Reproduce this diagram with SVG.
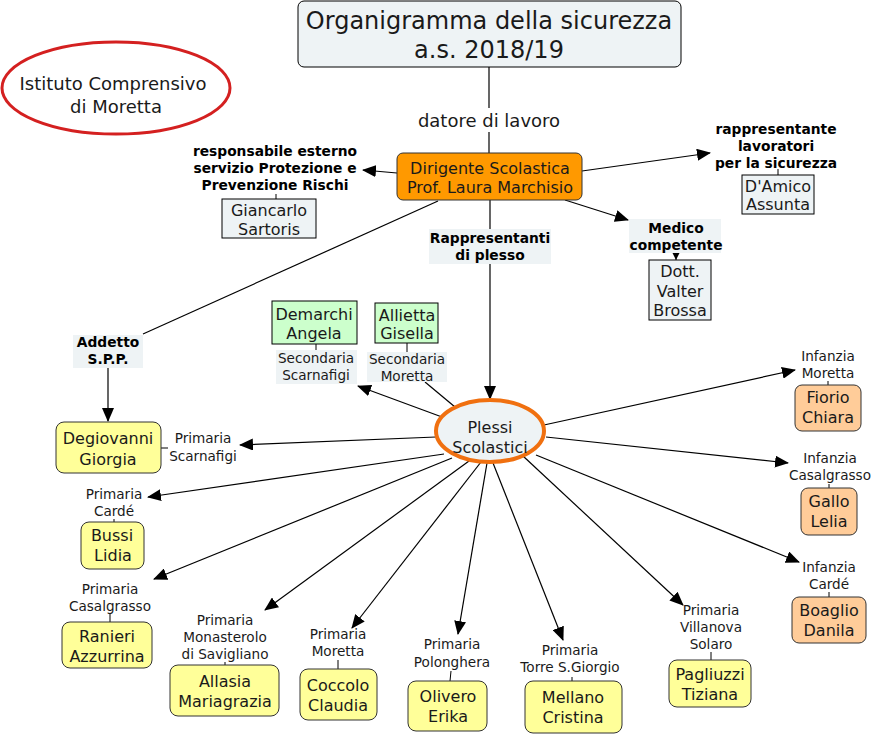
<svg xmlns="http://www.w3.org/2000/svg" width="877" height="736" viewBox="0 0 877 736">
<defs>
<marker id="ah" markerUnits="userSpaceOnUse" markerWidth="14" markerHeight="12" viewBox="0 0 14 12" refX="13" refY="6" orient="auto">
<path d="M0,0 L14,6 L0,12 Z" fill="#000"/>
</marker>
<marker id="ahs" markerUnits="userSpaceOnUse" markerWidth="8" markerHeight="8" viewBox="0 0 8 8" refX="8" refY="4" orient="auto">
<path d="M0,0 L8,4 L0,8 Z" fill="#000"/>
</marker>
</defs>
<style>
text{font-family:"DejaVu Sans","Liberation Sans",sans-serif;fill:#1a1a1a;text-anchor:middle}
.n{font-size:16px}
.l{font-size:13.6px}
.b{font-size:13.8px;font-weight:bold;fill:#000}
.lbg{fill:#eef3f5;stroke:none}
.pale{fill:#eef3f5;stroke:#000;stroke-width:1}
.yel{fill:#ffff99;stroke:#333;stroke-width:1}
.grn{fill:#ccffcc;stroke:#000;stroke-width:1}
.pch{fill:#ffcc99;stroke:#333;stroke-width:1}
.c{stroke:#000;stroke-width:1.2;fill:none}
.a{stroke:#000;stroke-width:1.2;fill:none;marker-end:url(#ah)}
.t{stroke:#000;stroke-width:1;fill:none}
</style>
<rect width="877" height="736" fill="#fff"/>

<g id="connectors">
<path class="c" d="M489,67 V108"/>
<path class="c" d="M489,132 V153"/>
<path class="a" d="M397,173 L363,170"/>
<path class="a" d="M582,171 L710,153"/>
<path class="a" d="M565,200 L628,220"/>
<path class="c" d="M490,200 V229"/>
<path class="a" d="M490,264 V399"/>
<path class="c" d="M438,201 L143,334"/>
<path class="a" d="M108,368 V421"/>
<path class="a" d="M442,417 L358,386"/>
<path class="c" d="M455,407 L425,382"/>
<path class="a" d="M436,437 L240,445"/>
<path class="a" d="M444,454 L148,497"/>
<path class="a" d="M452,458 L154,579"/>
<path class="a" d="M469,461 L265,610"/>
<path class="a" d="M481,462 L352,628"/>
<path class="a" d="M487,463 L458,634"/>
<path class="a" d="M493,463 L563,640"/>
<path class="a" d="M523,456 L683,605"/>
<path class="a" d="M544,425 L795,370"/>
<path class="a" d="M546,437 L788,463"/>
<path class="a" d="M536,455 L799,562"/>
<path class="t" d="M276,194 V199"/>
<path class="t" d="M778,169 V175"/>
<path class="t" d="M676,253 V260" marker-end="url(#ahs)"/>
<path class="t" d="M316,344 V350"/>
<path class="t" d="M407,343 V352"/>
<path class="t" d="M161,448 H168"/>
<path class="t" d="M114,519 V522"/>
<path class="t" d="M110,614 V622"/>
<path class="t" d="M225,662 V665"/>
<path class="t" d="M338,660 V669"/>
<path class="t" d="M451,671 L450,681"/>
<path class="t" d="M572,677 V681"/>
<path class="t" d="M711,652 V660"/>
<path class="t" d="M828,381 V385"/>
<path class="t" d="M829,484 V488"/>
<path class="t" d="M829,592 V597"/>
</g>

<g id="title">
<rect x="298" y="1" width="383" height="66" rx="6" class="pale"/>
<text x="489" y="29" font-size="24">Organigramma della sicurezza</text>
<text x="489" y="58" font-size="24">a.s. 2018/19</text>
</g>

<g id="istituto">
<ellipse cx="116" cy="88" rx="114" ry="46" fill="#fff" stroke="#d42020" stroke-width="3"/>
<text x="113" y="90" font-size="18">Istituto Comprensivo</text>
<text x="116" y="113" font-size="18">di Moretta</text>
</g>

<g id="datore">
<rect x="412" y="109" width="154" height="22" fill="#fff"/>
<text x="489" y="127" font-size="18">datore di lavoro</text>
</g>

<g id="dirigente">
<rect x="397" y="153" width="185" height="47" rx="6" fill="#ff9900" stroke="#333" stroke-width="1"/>
<text class="n" x="490" y="174">Dirigente Scolastica</text>
<text class="n" x="490" y="193">Prof. Laura Marchisio</text>
</g>

<g id="rspp">
<text class="b" x="275" y="156">responsabile esterno</text>
<text class="b" x="275" y="173">servizio Protezione e</text>
<text class="b" x="275" y="190">Prevenzione Rischi</text>
</g>
<g id="sartoris">
<rect x="222" y="199" width="94" height="39" class="pale"/>
<text class="n" x="269" y="216">Giancarlo</text>
<text class="n" x="269" y="235">Sartoris</text>
</g>

<g id="rls">
<text class="b" x="776" y="134">rappresentante</text>
<text class="b" x="776" y="151">lavoratori</text>
<text class="b" x="776" y="168">per la sicurezza</text>
</g>
<g id="damico">
<rect x="742" y="175" width="72" height="39" class="pale"/>
<text class="n" x="778" y="192">D'Amico</text>
<text class="n" x="778" y="210">Assunta</text>
</g>

<g id="medico">
<rect x="629" y="219" width="92" height="34" class="lbg"/>
<text class="b" x="676" y="233">Medico</text>
<text class="b" x="676" y="250">competente</text>
</g>
<g id="brossa">
<rect x="649" y="260" width="62" height="60" class="pale"/>
<text class="n" x="680" y="277">Dott.</text>
<text class="n" x="680" y="297">Valter</text>
<text class="n" x="680" y="316">Brossa</text>
</g>

<g id="rappresentanti">
<rect x="429" y="229" width="122" height="35" class="lbg"/>
<text class="b" x="490" y="243">Rappresentanti</text>
<text class="b" x="490" y="260">di plesso</text>
</g>

<g id="addetto">
<rect x="73" y="335" width="70" height="33" class="lbg"/>
<text class="b" x="108" y="347">Addetto</text>
<text class="b" x="108" y="364">S.P.P.</text>
</g>

<g id="plessi">
<ellipse cx="490" cy="431" rx="54" ry="31" fill="#eef3f5" stroke="#f07010" stroke-width="4"/>
<text class="n" x="490" y="433">Plessi</text>
<text class="n" x="490" y="453">Scolastici</text>
</g>

<g id="demarchi">
<rect x="272" y="301" width="85" height="43" class="grn"/>
<text class="n" x="314" y="320">Demarchi</text>
<text class="n" x="314" y="339">Angela</text>
</g>
<g id="sec-scarnafigi">
<rect x="276" y="350" width="81" height="34" class="lbg"/>
<text class="l" x="316" y="363">Secondaria</text>
<text class="l" x="316" y="380">Scarnafigi</text>
</g>

<g id="allietta">
<rect x="375" y="303" width="63" height="40" class="grn"/>
<text class="n" x="407" y="321">Allietta</text>
<text class="n" x="407" y="339">Gisella</text>
</g>
<g id="sec-moretta">
<rect x="367" y="352" width="80" height="30" class="lbg"/>
<text class="l" x="407" y="364">Secondaria</text>
<text class="l" x="407" y="381">Moretta</text>
</g>

<g id="degiovanni">
<rect x="56" y="422" width="105" height="51" rx="8" class="yel"/>
<text class="n" x="108" y="444">Degiovanni</text>
<text class="n" x="108" y="465">Giorgia</text>
<text class="l" x="203" y="443">Primaria</text>
<text class="l" x="203" y="461">Scarnafigi</text>
</g>

<g id="bussi">
<text class="l" x="114" y="499">Primaria</text>
<text class="l" x="114" y="516">Cardé</text>
<rect x="81" y="522" width="63" height="47" rx="8" class="yel"/>
<text class="n" x="112" y="541">Bussi</text>
<text class="n" x="113" y="561">Lidia</text>
</g>

<g id="ranieri">
<text class="l" x="110" y="594">Primaria</text>
<text class="l" x="110" y="611">Casalgrasso</text>
<rect x="62" y="622" width="90" height="46" rx="8" class="yel"/>
<text class="n" x="107" y="642">Ranieri</text>
<text class="n" x="107" y="662">Azzurrina</text>
</g>

<g id="allasia">
<text class="l" x="225" y="625">Primaria</text>
<text class="l" x="225" y="642">Monasterolo</text>
<text class="l" x="225" y="659">di Savigliano</text>
<rect x="170" y="665" width="109" height="51" rx="8" class="yel"/>
<text class="n" x="225" y="687">Allasia</text>
<text class="n" x="225" y="707">Mariagrazia</text>
</g>

<g id="coccolo">
<text class="l" x="338" y="639">Primaria</text>
<text class="l" x="338" y="656">Moretta</text>
<rect x="300" y="669" width="77" height="51" rx="8" class="yel"/>
<text class="n" x="338" y="691">Coccolo</text>
<text class="n" x="338" y="711">Claudia</text>
</g>

<g id="olivero">
<text class="l" x="452" y="649">Primaria</text>
<text class="l" x="452" y="667">Polonghera</text>
<rect x="408" y="681" width="79" height="50" rx="8" class="yel"/>
<text class="n" x="448" y="702">Olivero</text>
<text class="n" x="448" y="722">Erika</text>
</g>

<g id="mellano">
<text class="l" x="570" y="655">Primaria</text>
<text class="l" x="570" y="672">Torre S.Giorgio</text>
<rect x="525" y="681" width="97" height="52" rx="8" class="yel"/>
<text class="n" x="573" y="703">Mellano</text>
<text class="n" x="573" y="723">Cristina</text>
</g>

<g id="pagliuzzi">
<text class="l" x="711" y="615">Primaria</text>
<text class="l" x="711" y="632">Villanova</text>
<text class="l" x="711" y="649">Solaro</text>
<rect x="669" y="660" width="82" height="47" rx="8" class="yel"/>
<text class="n" x="710" y="680">Pagliuzzi</text>
<text class="n" x="710" y="700">Tiziana</text>
</g>

<g id="fiorio">
<text class="l" x="828" y="361">Infanzia</text>
<text class="l" x="828" y="378">Moretta</text>
<rect x="795" y="385" width="66" height="46" rx="7" class="pch"/>
<text class="n" x="828" y="403">Fiorio</text>
<text class="n" x="828" y="423">Chiara</text>
</g>

<g id="gallo">
<text class="l" x="830" y="463">Infanzia</text>
<text class="l" x="830" y="480">Casalgrasso</text>
<rect x="801" y="488" width="56" height="47" rx="7" class="pch"/>
<text class="n" x="829" y="507">Gallo</text>
<text class="n" x="829" y="527">Lelia</text>
</g>

<g id="boaglio">
<text class="l" x="829" y="572">Infanzia</text>
<text class="l" x="829" y="589">Cardé</text>
<rect x="792" y="597" width="74" height="46" rx="7" class="pch"/>
<text class="n" x="829" y="616">Boaglio</text>
<text class="n" x="829" y="636">Danila</text>
</g>
</svg>
